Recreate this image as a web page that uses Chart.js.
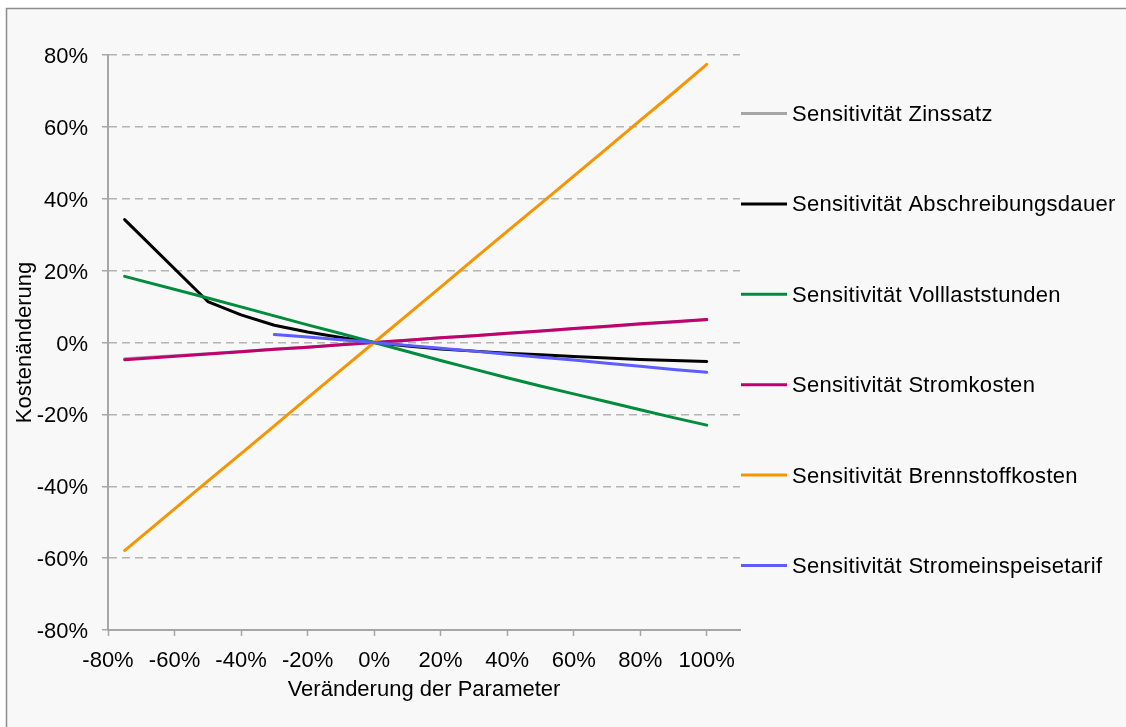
<!DOCTYPE html>
<html>
<head>
<meta charset="utf-8">
<script src="https://cdn.jsdelivr.net/npm/chart.js@4.4.1/dist/chart.umd.min.js"></script>
<style>
  html, body { margin: 0; padding: 0; background: #ffffff; }
  #wrap { width: 1126px; height: 727px; position: relative; }
</style>
</head>
<body>
<div id="wrap"><canvas id="c" width="1126" height="727"></canvas></div>
<script>
// ---- data ----
const xValues = [-75, -50, -40, -30, -20, -10, 0, 10, 20, 30, 40, 50, 60, 70, 80, 90, 100];
const seriesNames = [
  "Sensitivität Zinssatz",
  "Sensitivität Abschreibungsdauer",
  "Sensitivität Volllaststunden",
  "Sensitivität Stromkosten",
  "Sensitivität Brennstoffkosten",
  "Sensitivität Stromeinspeisetarif"
];
const zinssatz     = [-4.5, -3.1, -2.5, -1.9, -1.3, -0.6, 0, 0.6, 1.3, 1.9, 2.5, 3.1, 3.8, 4.4, 5.1, 5.7, 6.3];
const abschreibung = [34.2, 11.4, 7.7, 4.8, 2.9, 1.4, 0, -1.0, -1.8, -2.4, -3.0, -3.4, -3.9, -4.3, -4.7, -5.0, -5.3];
const volllast     = [18.4, 12.4, 9.9, 7.4, 4.9, 2.5, 0, -2.5, -5.0, -7.4, -9.8, -12.1, -14.3, -16.5, -18.7, -20.9, -23.0];
const stromkosten  = [-4.8, -3.2, -2.6, -1.9, -1.3, -0.6, 0, 0.6, 1.3, 1.9, 2.6, 3.2, 3.9, 4.5, 5.2, 5.8, 6.4];
const brennstoff   = [-57.9, -38.6, -30.9, -23.2, -15.4, -7.7, 0, 7.7, 15.4, 23.2, 30.9, 38.6, 46.3, 54.0, 61.8, 69.5, 77.4];
const einspeise    = [null, null, null, 2.2, 1.5, 0.75, 0, -0.8, -1.6, -2.4, -3.3, -4.1, -4.9, -5.8, -6.6, -7.5, -8.3];
const xTicks = [-80, -60, -40, -20, 0, 20, 40, 60, 80, 100];
const yTicks = [-80, -60, -40, -20, 0, 20, 40, 60, 80];

const seriesValues = [zinssatz, abschreibung, volllast, stromkosten, brennstoff, einspeise];
const colors = ["#a6a6a6", "#000000", "#008c3c", "#c0006f", "#f79500", "#5c5cff"];

const FONT = "'Liberation Sans', Arial, Helvetica, sans-serif";

const datasets = seriesValues.map((vals, i) => ({
  label: seriesNames[i],
  data: xValues.map((x, j) => ({ x: x, y: vals[j] })),
  borderColor: colors[i],
  backgroundColor: colors[i],
  borderWidth: 3,
  pointRadius: 0,
  tension: 0,
  fill: false,
  spanGaps: false,
  borderJoinStyle: 'round',
  borderCapStyle: 'round',
  order: seriesValues.length - i
}));

const bgPlugin = {
  id: 'bg',
  beforeDraw(chart) {
    const ctx = chart.ctx;
    ctx.save();
    ctx.fillStyle = '#ffffff';
    ctx.fillRect(0, 0, chart.width, chart.height);
    ctx.fillStyle = '#f8f8f8';
    ctx.fillRect(6, 8, chart.width, chart.height);
    ctx.strokeStyle = '#8c8c8c';
    ctx.lineWidth = 1.5;
    ctx.strokeRect(6.5, 8.5, chart.width + 20, chart.height + 20);
    ctx.restore();
  }
};

const legendPlugin = {
  id: 'sideLegend',
  afterDraw(chart) {
    const ctx = chart.ctx;
    ctx.save();
    ctx.font = '22px ' + FONT;
    ctx.textBaseline = 'middle';
    ctx.textAlign = 'left';
    try { ctx.letterSpacing = '0.3px'; } catch (e) {}
    const x0 = chart.chartArea.right + 1;
    const startY = 113.5, step = 90.4;
    chart.data.datasets.forEach((ds, i) => {
      const y = startY + i * step;
      ctx.strokeStyle = ds.borderColor;
      ctx.lineWidth = 3;
      ctx.lineCap = 'butt';
      ctx.beginPath();
      ctx.moveTo(x0, y);
      ctx.lineTo(x0 + 46, y);
      ctx.stroke();
      ctx.fillStyle = '#000000';
      ctx.fillText(ds.label, x0 + 51, y + 1.5);
    });
    ctx.restore();
  }
};

new Chart(document.getElementById('c'), {
  type: 'line',
  data: { datasets: datasets },
  options: {
    responsive: false,
    animation: false,
    devicePixelRatio: 1,
    layout: { padding: { left: 0, top: 55, right: 386, bottom: 0 } },
    plugins: { legend: { display: false }, tooltip: { enabled: false } },
    scales: {
      x: {
        type: 'linear',
        min: -80,
        max: 110,
        afterFit(scale) { scale.height = 97; },
        afterBuildTicks(scale) { scale.ticks = xTicks.map(v => ({ value: v })); },
        ticks: {
          callback: v => v + '%',
          font: { family: FONT, size: 22 },
          color: '#000000',
          padding: 12,
          maxRotation: 0,
          autoSkip: false
        },
        grid: {
          drawOnChartArea: false,
          drawTicks: true,
          tickLength: 6,
          tickColor: '#a6a6a6',
          tickWidth: 1.5
        },
        border: { display: true, color: '#a6a6a6', width: 2 },
        title: {
          display: true,
          text: 'Veränderung der Parameter',
          font: { family: FONT, size: 22 },
          color: '#000000',
          padding: { top: 4, bottom: 24 }
        }
      },
      y: {
        type: 'linear',
        min: -80,
        max: 80,
        afterFit(scale) { scale.width = 108; },
        afterBuildTicks(scale) { scale.ticks = yTicks.map(v => ({ value: v })); },
        ticks: {
          callback: v => v + '%',
          font: { family: FONT, size: 22 },
          color: '#000000',
          padding: 14,
          labelOffset: 2
        },
        grid: {
          drawOnChartArea: true,
          drawTicks: true,
          tickLength: 6,
          color: '#b4b4b4',
          lineWidth: 1.5,
          tickColor: '#a6a6a6',
          tickWidth: 1.5,
          tickBorderDash: []
        },
        border: { display: true, color: '#a6a6a6', width: 2, dash: [8, 5] },
        title: {
          display: true,
          text: 'Kostenänderung',
          font: { family: FONT, size: 22 },
          color: '#000000',
          padding: { top: 12, bottom: 4 }
        }
      }
    }
  },
  plugins: [bgPlugin, legendPlugin]
});
</script>
</body>
</html>
